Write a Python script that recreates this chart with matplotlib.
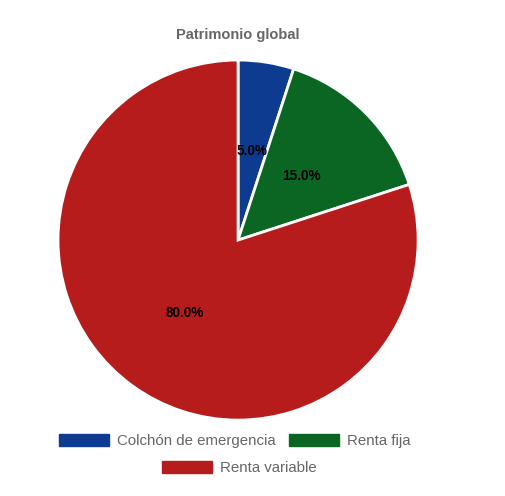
import matplotlib.pyplot as plt
from matplotlib.patches import Patch

plt.rcParams["font.family"] = ["Liberation Sans", "DejaVu Sans"]

# datos
labels = ["Colchón de emergencia", "Renta fija", "Renta variable"]
values = [5.0, 15.0, 80.0]
colors = ["#0d3b8f", "#0b6623", "#b71c1c"]

fig = plt.figure(figsize=(5.05, 4.96), dpi=100)
ax = fig.add_axes([0.1149, 0.153, 0.713, 0.726])

wedges, texts, autotexts = ax.pie(values, colors=colors, startangle=90, counterclock=False,
                                  autopct="%1.1f%%", pctdistance=0.5,
                                  wedgeprops=dict(edgecolor="white", linewidth=2),
                                  textprops=dict(fontsize=9.8, fontweight="bold", color="black"))
ax.set_xlim(-1.0, 1.0)
ax.set_ylim(-1.0, 1.0)
ax.set_aspect("equal")

fig.text(0.471, 0.929, "Patrimonio global", ha="center", va="center",
         fontsize=10.5, fontweight="bold", color="#666666")

# leyenda en dos filas centradas
handles = [Patch(facecolor=c, edgecolor=c) for c in colors]
leg1 = fig.legend(handles[:2], labels[:2], loc="center", bbox_to_anchor=(0.465, 0.111), ncol=2,
                  frameon=False, fontsize=10.8, handlelength=3.3, handleheight=0.85,
                  handletextpad=0.55, columnspacing=0.9, labelcolor="#666666")
leg2 = fig.legend(handles[2:], labels[2:], loc="center", bbox_to_anchor=(0.474, 0.056),
                  frameon=False, fontsize=10.8, handlelength=3.3, handleheight=0.85,
                  handletextpad=0.55, labelcolor="#666666")

fig.savefig("out.png", dpi=100)
